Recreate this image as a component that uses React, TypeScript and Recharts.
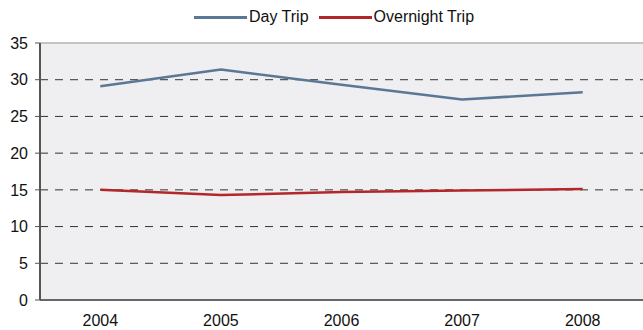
import React from 'react';
import { LineChart, Line, XAxis, YAxis, CartesianGrid, Legend, ReferenceLine } from 'recharts';

const years = ['2004', '2005', '2006', '2007', '2008'];
const dayTrip = [29.1, 31.4, 29.3, 27.3, 28.3];
const overnightTrip = [15.0, 14.3, 14.7, 14.9, 15.1];
const yTicks = [0, 5, 10, 15, 20, 25, 30, 35];

const DAY_COLOR = '#5A7896';
const NIGHT_COLOR = '#B3262B';
const FONT = '"Liberation Sans", Arial, sans-serif';

// Each year sits in the middle of its own band; band edges are whole numbers.
const rows = years.map((year, i) => ({
  pos: i + 0.5,
  year,
  day: dayTrip[i],
  overnight: overnightTrip[i],
}));
const labelTicks = rows.map((r) => r.pos);
const boundaryTicks = years.map((_, i) => i).concat(years.length);

const series = [
  { key: 'day', name: 'Day Trip', color: DAY_COLOR },
  { key: 'overnight', name: 'Overnight Trip', color: NIGHT_COLOR },
];

function LegendContent() {
  return (
    <div
      style={{
        display: 'flex',
        justifyContent: 'center',
        alignItems: 'center',
        height: 24,
        paddingLeft: 25,
        fontFamily: FONT,
        fontSize: 16,
        color: '#111',
      }}
    >
      {series.map((s, i) => (
        <div key={s.key} style={{ display: 'flex', alignItems: 'center', marginLeft: i ? 10 : 0 }}>
          <div style={{ width: 53, height: 3, background: s.color, marginRight: 2 }} />
          <span>{s.name}</span>
        </div>
      ))}
    </div>
  );
}

export default function App() {
  return (
    <div style={{ position: 'absolute', left: 0, top: 0, width: 643, height: 330, background: '#fff' }}>
      <LineChart width={643} height={330} data={rows} margin={{ top: 19, right: 0, bottom: 0, left: 0 }}>
        <Legend verticalAlign="top" height={24} content={<LegendContent />} wrapperStyle={{ top: 5, left: 0, width: 643 }} />
        <CartesianGrid
          vertical={false}
          fill="#EFEEF0"
          fillOpacity={1}
          stroke="#333"
          strokeDasharray="8 7"
        />
        <ReferenceLine y={35} stroke="#C4C4C4" strokeWidth={2} />
        <XAxis
          xAxisId="bounds"
          type="number"
          dataKey="pos"
          domain={[0, years.length]}
          ticks={boundaryTicks}
          tickFormatter={() => ''}
          tickSize={5}
          tickLine={{ stroke: '#555', strokeWidth: 1.5 }}
          axisLine={false}
          height={0}
        />
        <XAxis
          type="number"
          dataKey="pos"
          domain={[0, years.length]}
          ticks={labelTicks}
          tickFormatter={(v: number) => years[Math.floor(v)]}
          tickLine={false}
          tickMargin={9}
          axisLine={{ stroke: '#666', strokeWidth: 2 }}
          tick={{ fill: '#111', fontSize: 16, fontFamily: FONT }}
          height={30}
        />
        <YAxis
          domain={[0, 35]}
          ticks={yTicks}
          interval={0}
          width={40}
          tickSize={5}
          tickMargin={7}
          tickLine={{ stroke: '#555' }}
          axisLine={{ stroke: '#555', strokeWidth: 2 }}
          tick={{ fill: '#111', fontSize: 16, fontFamily: FONT }}
        />
        {series.map((s) => (
          <Line
            key={s.key}
            type="linear"
            dataKey={s.key}
            name={s.name}
            stroke={s.color}
            strokeWidth={2.5}
            dot={false}
            activeDot={false}
            isAnimationActive={false}
          />
        ))}
      </LineChart>
    </div>
  );
}
